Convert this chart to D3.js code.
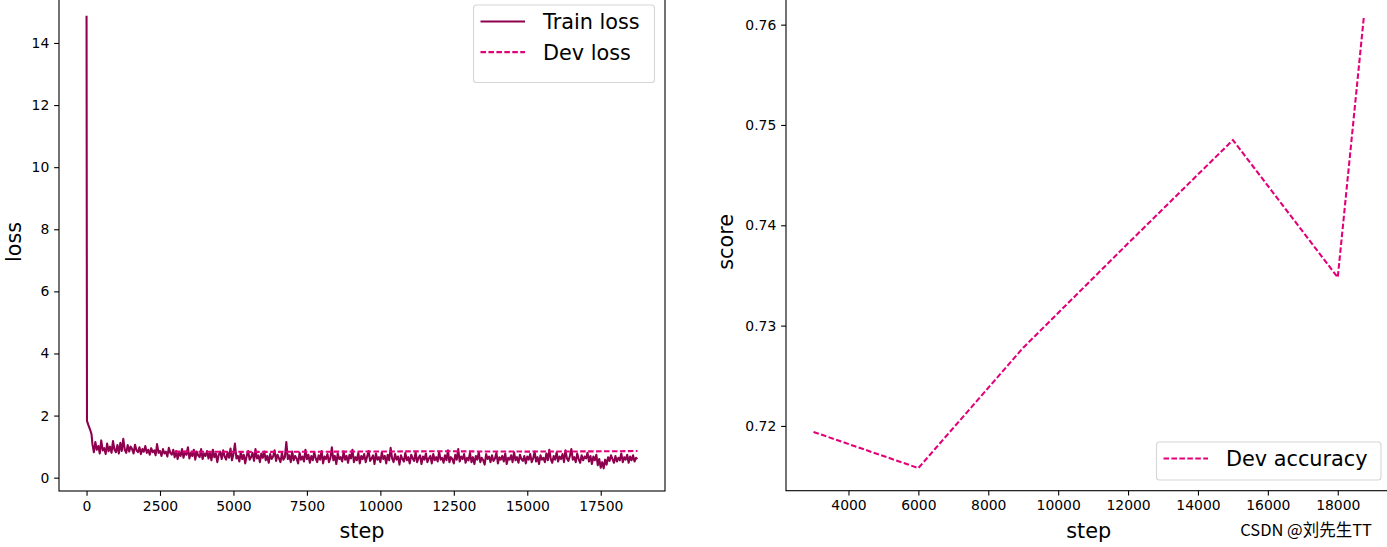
<!DOCTYPE html>
<html>
<head>
<meta charset="utf-8">
<script src="https://cdn.jsdelivr.net/npm/d3@7"></script>
<style>
  html, body { margin: 0; padding: 0; background: #fff; }
  svg { display: block; }
  text { font-family: "DejaVu Sans", sans-serif; fill: #000; }
</style>
</head>
<body>
<svg id="chart" width="1387" height="547"></svg>
<script>
// ---------------- DATA ----------------
// Train loss: initial steps logged densely, then every 50 steps
const trainHeadSteps = [0, 15, 60, 120, 170];
const trainHeadLoss  = [14.88, 1.83, 1.7, 1.55, 1.4];
const trainBodyStart = 200;
const trainBodyInterval = 50;
const trainBodyLoss = [
  1.08,0.82,1.15,0.9,1.02,0.78,1.2,0.88,0.95,0.76,1.1,0.85,1.0,0.8,1.18,0.9,0.82,1.05,0.78,1.12,
  0.86,1.25,0.9,0.8,1.05,0.84,1.0,0.92,0.78,1.06,0.88,0.82,0.98,0.76,0.92,0.84,1.02,0.8,0.9,0.74,
  0.95,0.82,0.88,0.72,1.08,0.8,0.86,0.7,0.92,0.78,0.84,0.68,0.96,0.8,0.74,0.9,0.66,0.86,0.6,0.82,
  0.7,0.92,0.64,0.84,0.74,0.98,0.62,0.8,0.7,0.9,0.58,0.84,0.72,0.66,0.92,0.6,0.78,0.7,0.86,0.62,
  0.8,0.56,0.9,0.66,0.78,0.5,0.74,0.84,0.6,0.88,0.68,0.58,0.82,0.64,0.94,0.56,0.76,1.1,0.62,0.7,
  0.52,0.82,0.6,0.74,0.46,0.7,0.86,0.58,0.66,0.8,0.54,0.92,0.62,0.72,0.5,0.78,0.64,0.84,0.56,0.7,
  0.48,0.76,0.6,0.68,0.88,0.54,0.74,0.62,0.5,0.8,0.58,0.66,1.15,0.6,0.72,0.5,0.84,0.56,0.7,0.62,
  0.46,0.8,0.58,0.68,0.52,0.9,0.6,0.74,0.48,0.7,0.56,0.82,0.62,0.5,0.72,0.58,0.86,0.46,0.68,0.6,
  0.76,0.5,0.64,0.98,0.56,0.7,0.44,0.78,0.6,0.66,0.52,0.84,0.58,0.7,0.48,0.74,0.62,0.9,0.5,0.66,
  0.56,0.8,0.46,0.7,0.6,0.76,0.5,0.68,0.86,0.54,0.62,0.72,0.44,0.78,0.58,0.66,0.5,0.82,0.6,0.7,
  0.46,0.74,0.56,0.96,0.62,0.5,0.76,0.58,0.68,0.42,0.72,0.6,0.52,0.8,0.56,0.66,0.46,0.74,0.62,0.54,
  0.82,0.5,0.64,0.72,0.44,0.68,0.58,0.78,0.5,0.62,0.7,0.46,0.76,0.56,0.66,0.52,0.84,0.58,0.64,0.48,
  0.72,0.56,0.88,0.5,0.66,0.6,0.46,0.74,0.58,0.92,0.52,0.68,0.6,0.76,0.48,0.64,0.56,0.8,0.5,0.66,
  0.44,0.7,0.58,0.82,0.5,0.64,0.56,0.42,0.76,0.6,0.68,0.5,0.72,0.54,0.62,0.8,0.46,0.66,0.58,0.7,
  0.52,0.78,0.44,0.64,0.58,0.72,0.5,0.82,0.56,0.66,0.48,0.74,0.6,0.54,0.7,0.46,0.68,0.58,0.76,0.5,
  0.62,0.84,0.52,0.66,0.44,0.72,0.58,0.64,0.5,0.78,0.56,0.9,0.6,0.48,0.7,0.58,0.82,0.52,0.68,0.6,
  0.76,0.5,0.88,0.62,0.54,0.7,0.92,0.58,0.66,0.5,0.78,0.6,0.48,0.72,0.56,0.68,0.62,0.8,0.52,0.7,
  0.44,0.68,0.56,0.74,0.4,0.6,0.32,0.5,0.3,0.58,0.42,0.66,0.54,0.72,0.6,0.48,0.7,0.52,0.64,0.56,
  0.78,0.5,0.66,0.58,0.74,0.48,0.68,0.56,0.72,0.52,0.64
];
const trainTailSteps = [18750];
const trainTailLoss  = [0.6];

const devSteps  = [3000, 6000, 9000, 12000, 15000, 18000, 18750];
const devLoss   = [0.84, 0.83, 0.84, 0.85, 0.84, 0.85, 0.86];
const devScore  = [0.7194, 0.7158, 0.7278, 0.7382, 0.7485, 0.7348, 0.7609];

const leftXTicks  = [0, 2500, 5000, 7500, 10000, 12500, 15000, 17500];
const leftYTicks  = [0, 2, 4, 6, 8, 10, 12, 14];
const rightXTicks = [4000, 6000, 8000, 10000, 12000, 14000, 16000, 18000];
const rightYTicks = [0.72, 0.73, 0.74, 0.75, 0.76];

const trainColor = "#8E004D";
const devColor   = "#E20079";

// ---------------- BUILD ----------------
const trainData = [];
trainHeadSteps.forEach((s, i) => trainData.push({x: s, y: trainHeadLoss[i]}));
trainBodyLoss.forEach((v, i) => trainData.push({x: trainBodyStart + i * trainBodyInterval, y: v}));
trainTailSteps.forEach((s, i) => trainData.push({x: s, y: trainTailLoss[i]}));
const devLossData  = devSteps.map((s, i) => ({x: s, y: devLoss[i]}));
const devScoreData = devSteps.map((s, i) => ({x: s, y: devScore[i]}));

const svg = d3.select("#chart");
const TICK_FS = 13.9, LABEL_FS = 20.8, LW = 2.08, TICK_LEN = 4.86, PAD = 4.86;

function padded(ext) {
  const p = (ext[1] - ext[0]) * 0.05;
  return [ext[0] - p, ext[1] + p];
}

function drawAxes(box, xDomain, yDomain, xTicks, yTicks, yFmt, xLabel, yLabel, yLabelX) {
  const x = d3.scaleLinear().domain(xDomain).range([box.left, box.right]);
  const y = d3.scaleLinear().domain(yDomain).range([box.bottom, box.top]);
  const g = svg.append("g");

  const xAxis = d3.axisBottom(x).tickValues(xTicks).tickSize(TICK_LEN).tickPadding(PAD).tickFormat(d3.format("d"));
  const gx = g.append("g").attr("transform", `translate(0,${box.bottom})`).call(xAxis);
  const yAxis = d3.axisLeft(y).tickValues(yTicks).tickSize(TICK_LEN).tickPadding(PAD).tickFormat(yFmt);
  const gy = g.append("g").attr("transform", `translate(${box.left},0)`).call(yAxis);
  [gx, gy].forEach(a => {
    a.select(".domain").remove();
    a.selectAll(".tick line").attr("stroke", "#000").attr("stroke-width", 1.1);
    a.selectAll(".tick text").style("font-family", "DejaVu Sans").style("font-size", TICK_FS + "px").attr("fill", "#000");
  });
  gx.selectAll(".tick text").attr("dy", "0.72em");

  g.append("text").attr("x", (box.left + box.right) / 2).attr("y", box.bottom + 47)
    .attr("text-anchor", "middle").style("font-size", LABEL_FS + "px").text(xLabel);
  g.append("text").attr("transform", `translate(${yLabelX},${y((yDomain[0]+yDomain[1])/2)}) rotate(-90)`)
    .attr("text-anchor", "middle").style("font-size", LABEL_FS + "px").text(yLabel);

  return {x, y, g};
}

function drawFrame(box) {
  svg.append("rect").attr("x", box.left).attr("y", box.top)
    .attr("width", box.right - box.left).attr("height", box.bottom - box.top)
    .attr("fill", "none").attr("stroke", "#000").attr("stroke-width", 1.1);
}

function drawLegend(x0, y0, w, h, items) {
  const g = svg.append("g");
  g.append("rect").attr("x", x0).attr("y", y0).attr("width", w).attr("height", h)
    .attr("rx", 3).attr("fill", "#fff").attr("fill-opacity", 0.8)
    .attr("stroke", "#d6d6d6").attr("stroke-width", 1.1);
  items.forEach((it, i) => {
    const cy = y0 + 16.5 + i * 30.6;
    g.append("line").attr("x1", x0 + 7).attr("x2", x0 + 51.5).attr("y1", cy).attr("y2", cy)
      .attr("stroke", it.color).attr("stroke-width", LW)
      .attr("stroke-dasharray", it.dash ? "5.55,2.4" : null);
    g.append("text").attr("x", x0 + 69.5).attr("y", cy).attr("dy", "0.36em")
      .style("font-size", LABEL_FS + "px").text(it.label);
  });
}

// ---- Left: loss ----
const boxL = {left: 59, right: 665, top: -7, bottom: 491};
const lx = padded(d3.extent(trainData, d => d.x));
const ly = padded(d3.extent(trainData.concat(devLossData), d => d.y));
const L = drawAxes(boxL, lx, ly, leftXTicks, leftYTicks, d3.format("d"), "step", "loss", 21);
const lineL = d3.line().x(d => L.x(d.x)).y(d => L.y(d.y));
svg.append("path").datum(trainData).attr("d", lineL).attr("fill", "none")
  .attr("stroke", trainColor).attr("stroke-width", LW).attr("stroke-linejoin", "round");
svg.append("path").datum(devLossData).attr("d", lineL).attr("fill", "none")
  .attr("stroke", devColor).attr("stroke-width", LW).attr("stroke-dasharray", "5.55,2.4");
drawFrame(boxL);
drawLegend(473.5, 5, 181, 77.5, [
  {label: "Train loss", color: trainColor, dash: false},
  {label: "Dev loss", color: devColor, dash: true}
]);

// ---- Right: score ----
const boxR = {left: 786, right: 1391.5, top: -7, bottom: 490.7};
const rx = padded(d3.extent(devScoreData, d => d.x));
const ry = padded(d3.extent(devScoreData, d => d.y));
const R = drawAxes(boxR, rx, ry, rightXTicks, rightYTicks, d3.format(".2f"), "step", "score", 733);
const lineR = d3.line().x(d => R.x(d.x)).y(d => R.y(d.y));
svg.append("path").datum(devScoreData).attr("d", lineR).attr("fill", "none")
  .attr("stroke", devColor).attr("stroke-width", LW).attr("stroke-dasharray", "5.55,2.4");
drawFrame(boxR);
drawLegend(1156.5, 442, 224.5, 38, [
  {label: "Dev accuracy", color: devColor, dash: true}
]);

// watermark
svg.append("text").attr("x", 1372).attr("y", 536).attr("text-anchor", "end")
  .style("font-family", "'Noto Sans CJK SC', 'DejaVu Sans', sans-serif")
  .style("font-size", "16.5px").attr("fill", "#acacac").text("CSDN @刘先生TT");
</script>
</body>
</html>
